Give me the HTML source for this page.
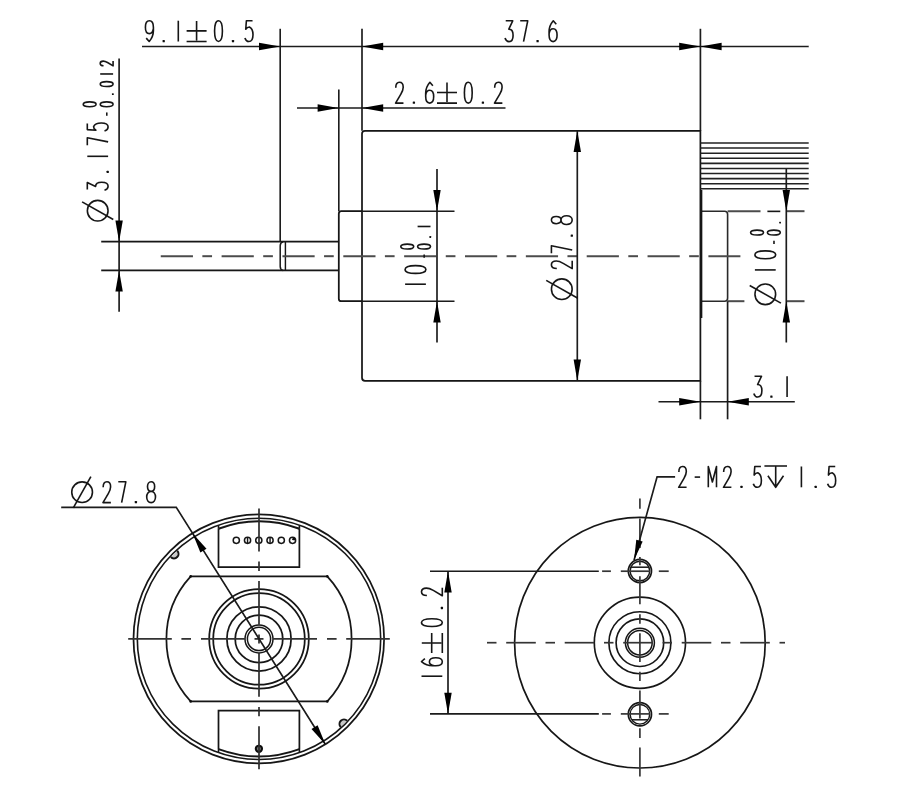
<!DOCTYPE html>
<html><head><meta charset="utf-8"><title>Motor drawing</title>
<style>html,body{margin:0;padding:0;background:#fff;font-family:"Liberation Sans",sans-serif;}svg{display:block}</style>
</head><body>
<svg width="908" height="799" viewBox="0 0 908 799">
<defs><filter id="soft" x="-2%" y="-2%" width="104%" height="104%"><feGaussianBlur stdDeviation="0.42"/></filter></defs>
<rect width="908" height="799" fill="#fff"/>
<g filter="url(#soft)">
<path d="M365.0,130.8 L700.4,130.8 L700.4,380.8 L365.0,380.8 Q362.0,380.8 362.0,377.8 L362.0,133.8 Q362.0,130.8 365.0,130.8 Z" stroke="#161616" stroke-width="1.75" fill="none" />
<path d="M362.0,211.2 L341.3,211.2 Q338.8,211.2 338.8,213.7 L338.8,298.7 Q338.8,301.2 341.3,301.2 L362.0,301.2" stroke="#161616" stroke-width="1.75" fill="none" />
<line x1="362.00" y1="211.20" x2="454.50" y2="211.20" stroke="#1a1a1a" stroke-width="1.65" />
<line x1="362.00" y1="301.20" x2="454.50" y2="301.20" stroke="#1a1a1a" stroke-width="1.65" />
<line x1="101.20" y1="241.70" x2="338.80" y2="241.70" stroke="#161616" stroke-width="1.75" />
<line x1="101.20" y1="270.40" x2="338.80" y2="270.40" stroke="#161616" stroke-width="1.75" />
<path d="M283.2,241.7 Q280.2,242.2 280.2,245.7 L280.2,266.4 Q280.2,269.9 283.2,270.4" stroke="#161616" stroke-width="1.5" fill="none" />
<line x1="285.40" y1="241.70" x2="285.40" y2="270.40" stroke="#161616" stroke-width="1.45" />
<path d="M700.4,211.2 L724.6,211.2 Q727.6,211.2 727.6,214.2 L727.6,298.2 Q727.6,301.2 724.6,301.2 L700.4,301.2" stroke="#2a2a2a" stroke-width="1.6" fill="none" />
<line x1="701.60" y1="190.00" x2="701.60" y2="318.00" stroke="#161616" stroke-width="1.5" />
<line x1="700.40" y1="143.00" x2="808.70" y2="143.00" stroke="#222" stroke-width="1.55" />
<line x1="700.40" y1="148.09" x2="808.70" y2="148.09" stroke="#222" stroke-width="1.55" />
<line x1="700.40" y1="153.18" x2="808.70" y2="153.18" stroke="#222" stroke-width="1.55" />
<line x1="700.40" y1="158.27" x2="808.70" y2="158.27" stroke="#222" stroke-width="1.55" />
<line x1="700.40" y1="163.36" x2="808.70" y2="163.36" stroke="#222" stroke-width="1.55" />
<line x1="700.40" y1="168.45" x2="808.70" y2="168.45" stroke="#222" stroke-width="1.55" />
<line x1="700.40" y1="173.54" x2="808.70" y2="173.54" stroke="#222" stroke-width="1.55" />
<line x1="700.40" y1="178.63" x2="808.70" y2="178.63" stroke="#222" stroke-width="1.55" />
<line x1="700.40" y1="183.72" x2="808.70" y2="183.72" stroke="#222" stroke-width="1.55" />
<line x1="700.40" y1="188.81" x2="808.70" y2="188.81" stroke="#222" stroke-width="1.55" />
<line x1="160.75" y1="256.20" x2="192.95" y2="256.20" stroke="#4c4c4c" stroke-width="2.0" />
<line x1="202.35" y1="256.20" x2="212.05" y2="256.20" stroke="#4c4c4c" stroke-width="2.0" />
<line x1="221.60" y1="256.20" x2="253.80" y2="256.20" stroke="#4c4c4c" stroke-width="2.0" />
<line x1="263.20" y1="256.20" x2="272.90" y2="256.20" stroke="#4c4c4c" stroke-width="2.0" />
<line x1="282.45" y1="256.20" x2="314.65" y2="256.20" stroke="#4c4c4c" stroke-width="2.0" />
<line x1="324.05" y1="256.20" x2="333.75" y2="256.20" stroke="#4c4c4c" stroke-width="2.0" />
<line x1="343.30" y1="256.20" x2="375.50" y2="256.20" stroke="#4c4c4c" stroke-width="2.0" />
<line x1="384.90" y1="256.20" x2="394.60" y2="256.20" stroke="#4c4c4c" stroke-width="2.0" />
<line x1="404.15" y1="256.20" x2="436.35" y2="256.20" stroke="#4c4c4c" stroke-width="2.0" />
<line x1="445.75" y1="256.20" x2="455.45" y2="256.20" stroke="#4c4c4c" stroke-width="2.0" />
<line x1="465.00" y1="256.20" x2="497.20" y2="256.20" stroke="#4c4c4c" stroke-width="2.0" />
<line x1="506.60" y1="256.20" x2="516.30" y2="256.20" stroke="#4c4c4c" stroke-width="2.0" />
<line x1="525.85" y1="256.20" x2="558.05" y2="256.20" stroke="#4c4c4c" stroke-width="2.0" />
<line x1="567.45" y1="256.20" x2="577.15" y2="256.20" stroke="#4c4c4c" stroke-width="2.0" />
<line x1="586.70" y1="256.20" x2="618.90" y2="256.20" stroke="#4c4c4c" stroke-width="2.0" />
<line x1="628.30" y1="256.20" x2="638.00" y2="256.20" stroke="#4c4c4c" stroke-width="2.0" />
<line x1="647.55" y1="256.20" x2="679.75" y2="256.20" stroke="#4c4c4c" stroke-width="2.0" />
<line x1="689.15" y1="256.20" x2="698.85" y2="256.20" stroke="#4c4c4c" stroke-width="2.0" />
<line x1="708.40" y1="256.20" x2="740.40" y2="256.20" stroke="#4c4c4c" stroke-width="2.0" />
<line x1="727.60" y1="211.20" x2="760.50" y2="211.20" stroke="#4c4c4c" stroke-width="2.0" />
<line x1="786.30" y1="211.20" x2="804.50" y2="211.20" stroke="#4c4c4c" stroke-width="2.0" />
<line x1="727.60" y1="301.20" x2="744.40" y2="301.20" stroke="#4c4c4c" stroke-width="2.0" />
<line x1="786.30" y1="301.20" x2="804.50" y2="301.20" stroke="#4c4c4c" stroke-width="2.0" />
<line x1="142.00" y1="46.50" x2="808.70" y2="46.50" stroke="#1a1a1a" stroke-width="1.65" />
<line x1="280.20" y1="28.80" x2="280.20" y2="241.70" stroke="#1a1a1a" stroke-width="1.65" />
<line x1="362.00" y1="28.80" x2="362.00" y2="130.80" stroke="#1a1a1a" stroke-width="1.65" />
<line x1="700.40" y1="28.80" x2="700.40" y2="130.80" stroke="#1a1a1a" stroke-width="1.65" />
<polygon points="280.20,46.50 259.00,42.80 259.00,50.20" fill="#000"/>
<polygon points="362.00,46.50 383.20,50.20 383.20,42.80" fill="#000"/>
<polygon points="700.40,46.50 679.20,42.80 679.20,50.20" fill="#000"/>
<polygon points="700.40,46.50 721.60,50.20 721.60,42.80" fill="#000"/>
<line x1="297.00" y1="108.00" x2="505.50" y2="108.00" stroke="#1a1a1a" stroke-width="1.65" />
<line x1="338.80" y1="89.50" x2="338.80" y2="211.20" stroke="#1a1a1a" stroke-width="1.65" />
<polygon points="338.80,108.00 317.60,104.30 317.60,111.70" fill="#000"/>
<polygon points="362.00,108.00 383.20,111.70 383.20,104.30" fill="#000"/>
<line x1="119.10" y1="58.50" x2="119.10" y2="311.80" stroke="#1a1a1a" stroke-width="1.65" />
<polygon points="119.10,241.70 122.80,220.50 115.40,220.50" fill="#000"/>
<polygon points="119.10,270.40 115.40,291.60 122.80,291.60" fill="#000"/>
<line x1="437.00" y1="169.00" x2="437.00" y2="342.50" stroke="#1a1a1a" stroke-width="1.65" />
<polygon points="437.00,211.20 440.70,190.00 433.30,190.00" fill="#000"/>
<polygon points="437.00,301.20 433.30,322.40 440.70,322.40" fill="#000"/>
<line x1="577.30" y1="130.80" x2="577.30" y2="380.80" stroke="#1a1a1a" stroke-width="1.65" />
<polygon points="577.30,130.80 573.60,152.00 581.00,152.00" fill="#000"/>
<polygon points="577.30,380.80 581.00,359.60 573.60,359.60" fill="#000"/>
<line x1="786.30" y1="169.00" x2="786.30" y2="342.50" stroke="#1a1a1a" stroke-width="1.65" />
<polygon points="786.30,211.20 790.00,190.00 782.60,190.00" fill="#000"/>
<polygon points="786.30,301.20 782.60,322.40 790.00,322.40" fill="#000"/>
<line x1="658.50" y1="401.70" x2="794.80" y2="401.70" stroke="#1a1a1a" stroke-width="1.65" />
<line x1="700.40" y1="380.80" x2="700.40" y2="419.30" stroke="#1a1a1a" stroke-width="1.65" />
<line x1="727.60" y1="301.20" x2="727.60" y2="419.30" stroke="#1a1a1a" stroke-width="1.65" />
<polygon points="700.40,401.70 679.20,398.00 679.20,405.40" fill="#000"/>
<polygon points="727.60,401.70 748.80,405.40 748.80,398.00" fill="#000"/>
<g transform="translate(0.00,41.50) rotate(0)" fill="none" stroke="#161616" stroke-width="1.6" stroke-linecap="butt" stroke-linejoin="round">
<path transform="translate(145.30,-20.80) scale(0.9300,1.0)" d="M1.0,17.4 L4.2,20.8 C6.4,18.4 8.7,15.4 8.7,10 L8.7,6.5 C8.7,2.4 7,0 4.4,0 C1.8,0 0.1,2.4 0.1,6.5 C0.1,10.5 1.8,12.9 4.4,12.9 C6.6,12.9 8.2,11 8.7,8" vector-effect="non-scaling-stroke"/>
<rect x="162.55" y="-1.55" width="2.30" height="2.30" rx="0.57" fill="#111" stroke="none"/>
<path transform="translate(174.20,-20.80) scale(0.9300,1.0)" d="M4.4,0 L4.4,20.8" vector-effect="non-scaling-stroke"/>
<path transform="translate(186.60,-20.80) scale(1.0000,1.0)" d="M0,10.2 L20,10.2 M10,0.3 L10,19.8 M0,20.8 L20,20.8" vector-effect="non-scaling-stroke"/>
<path transform="translate(214.40,-20.80) scale(0.9300,1.0)" d="M4.4,0 C1.6,0 0.2,3.6 0.2,10.4 C0.2,17.2 1.6,20.8 4.4,20.8 C7.2,20.8 8.6,17.2 8.6,10.4 C8.6,3.6 7.2,0 4.4,0 Z" vector-effect="non-scaling-stroke"/>
<rect x="231.85" y="-1.55" width="2.30" height="2.30" rx="0.57" fill="#111" stroke="none"/>
<path transform="translate(244.90,-20.80) scale(0.9300,1.0)" d="M8.2,0 L1.6,0 L0.9,8.6 C2,7.0 3.3,6.3 4.8,6.3 C7.3,7.3 8.7,10 8.7,14 C8.7,18.2 7,20.8 4.3,20.8 C2.2,20.8 0.8,19.6 0,17.2" vector-effect="non-scaling-stroke"/>
</g>
<g transform="translate(0.00,41.60) rotate(0)" fill="none" stroke="#161616" stroke-width="1.6" stroke-linecap="butt" stroke-linejoin="round">
<path transform="translate(505.00,-20.80) scale(0.9300,1.0)" d="M0.8,0 L8.3,0 L4.1,8.3 C7,8.3 8.7,10.8 8.7,14.4 C8.7,18.4 7,20.8 4.3,20.8 C2.2,20.8 0.8,19.6 0,17.2" vector-effect="non-scaling-stroke"/>
<path transform="translate(520.00,-20.80) scale(0.9300,1.0)" d="M0.2,0 L8.3,0 L3.8,20.8" vector-effect="non-scaling-stroke"/>
<rect x="536.45" y="-1.55" width="2.30" height="2.30" rx="0.57" fill="#111" stroke="none"/>
<path transform="translate(549.00,-20.80) scale(0.9300,1.0)" d="M7.8,3.4 L4.6,0 C2.4,2.4 0.1,5.4 0.1,10.8 L0.1,14.3 C0.1,18.4 1.8,20.8 4.4,20.8 C7,20.8 8.7,18.4 8.7,14.3 C8.7,10.3 7,7.9 4.4,7.9 C2.2,7.9 0.6,9.8 0.1,12.8" vector-effect="non-scaling-stroke"/>
</g>
<g transform="translate(0.00,103.10) rotate(0)" fill="none" stroke="#161616" stroke-width="1.6" stroke-linecap="butt" stroke-linejoin="round">
<path transform="translate(395.30,-20.80) scale(0.9300,1.0)" d="M0.5,5.4 C0.5,2 2,0 4.5,0 C7,0 8.5,2 8.5,4.9 C8.5,7.4 7.5,9.4 6,11.8 L0.3,20.8 L8.8,20.8" vector-effect="non-scaling-stroke"/>
<rect x="412.75" y="-1.55" width="2.30" height="2.30" rx="0.57" fill="#111" stroke="none"/>
<path transform="translate(425.60,-20.80) scale(0.9300,1.0)" d="M7.8,3.4 L4.6,0 C2.4,2.4 0.1,5.4 0.1,10.8 L0.1,14.3 C0.1,18.4 1.8,20.8 4.4,20.8 C7,20.8 8.7,18.4 8.7,14.3 C8.7,10.3 7,7.9 4.4,7.9 C2.2,7.9 0.6,9.8 0.1,12.8" vector-effect="non-scaling-stroke"/>
<path transform="translate(437.00,-20.80) scale(1.0000,1.0)" d="M0,10.2 L20,10.2 M10,0.3 L10,19.8 M0,20.8 L20,20.8" vector-effect="non-scaling-stroke"/>
<path transform="translate(464.20,-20.80) scale(0.9300,1.0)" d="M4.4,0 C1.6,0 0.2,3.6 0.2,10.4 C0.2,17.2 1.6,20.8 4.4,20.8 C7.2,20.8 8.6,17.2 8.6,10.4 C8.6,3.6 7.2,0 4.4,0 Z" vector-effect="non-scaling-stroke"/>
<rect x="481.75" y="-1.55" width="2.30" height="2.30" rx="0.57" fill="#111" stroke="none"/>
<path transform="translate(494.20,-20.80) scale(0.9300,1.0)" d="M0.5,5.4 C0.5,2 2,0 4.5,0 C7,0 8.5,2 8.5,4.9 C8.5,7.4 7.5,9.4 6,11.8 L0.3,20.8 L8.8,20.8" vector-effect="non-scaling-stroke"/>
</g>
<g transform="translate(0.00,397.00) rotate(0)" fill="none" stroke="#161616" stroke-width="1.6" stroke-linecap="butt" stroke-linejoin="round">
<path transform="translate(753.80,-20.80) scale(0.9300,1.0)" d="M0.8,0 L8.3,0 L4.1,8.3 C7,8.3 8.7,10.8 8.7,14.4 C8.7,18.4 7,20.8 4.3,20.8 C2.2,20.8 0.8,19.6 0,17.2" vector-effect="non-scaling-stroke"/>
<rect x="770.25" y="-1.55" width="2.30" height="2.30" rx="0.57" fill="#111" stroke="none"/>
<path transform="translate(783.00,-20.80) scale(0.9300,1.0)" d="M4.4,0 L4.4,20.8" vector-effect="non-scaling-stroke"/>
</g>
<g transform="translate(108.10,230.00) rotate(-90)" fill="none" stroke="#161616" stroke-width="1.6" stroke-linecap="butt" stroke-linejoin="round">
<circle cx="19.30" cy="-10.40" r="10.35"/><path d="M10.50,5.20 L28.10,-26.00"/>
<path transform="translate(39.70,-20.80) scale(0.9300,1.0)" d="M0.8,0 L8.3,0 L4.1,8.3 C7,8.3 8.7,10.8 8.7,14.4 C8.7,18.4 7,20.8 4.3,20.8 C2.2,20.8 0.8,19.6 0,17.2" vector-effect="non-scaling-stroke"/>
<rect x="56.95" y="-1.55" width="2.30" height="2.30" rx="0.57" fill="#111" stroke="none"/>
<path transform="translate(69.60,-20.80) scale(0.9300,1.0)" d="M4.4,0 L4.4,20.8" vector-effect="non-scaling-stroke"/>
<path transform="translate(84.60,-20.80) scale(0.9300,1.0)" d="M0.2,0 L8.3,0 L3.8,20.8" vector-effect="non-scaling-stroke"/>
<path transform="translate(98.90,-20.80) scale(0.9300,1.0)" d="M8.2,0 L1.6,0 L0.9,8.6 C2,7.0 3.3,6.3 4.8,6.3 C7.3,7.3 8.7,10 8.7,14 C8.7,18.2 7,20.8 4.3,20.8 C2.2,20.8 0.8,19.6 0,17.2" vector-effect="non-scaling-stroke"/>
<path transform="translate(113.10,-7.90) scale(0.6200,0.62)" d="M1.8,10.6 L7.2,10.6" vector-effect="non-scaling-stroke"/>
<path transform="translate(123.20,-7.90) scale(0.5766,0.62)" d="M4.4,0 C1.6,0 0.2,3.6 0.2,10.4 C0.2,17.2 1.6,20.8 4.4,20.8 C7.2,20.8 8.6,17.2 8.6,10.4 C8.6,3.6 7.2,0 4.4,0 Z" vector-effect="non-scaling-stroke"/>
<rect x="134.88" y="3.83" width="1.84" height="1.84" rx="0.46" fill="#111" stroke="none"/>
<path transform="translate(143.40,-7.90) scale(0.5766,0.62)" d="M4.4,0 C1.6,0 0.2,3.6 0.2,10.4 C0.2,17.2 1.6,20.8 4.4,20.8 C7.2,20.8 8.6,17.2 8.6,10.4 C8.6,3.6 7.2,0 4.4,0 Z" vector-effect="non-scaling-stroke"/>
<path transform="translate(153.50,-7.90) scale(0.5766,0.62)" d="M4.4,0 L4.4,20.8" vector-effect="non-scaling-stroke"/>
<path transform="translate(164.00,-7.90) scale(0.5766,0.62)" d="M0.5,5.4 C0.5,2 2,0 4.5,0 C7,0 8.5,2 8.5,4.9 C8.5,7.4 7.5,9.4 6,11.8 L0.3,20.8 L8.8,20.8" vector-effect="non-scaling-stroke"/>
<path transform="translate(123.20,-24.90) scale(0.5766,0.62)" d="M4.4,0 C1.6,0 0.2,3.6 0.2,10.4 C0.2,17.2 1.6,20.8 4.4,20.8 C7.2,20.8 8.6,17.2 8.6,10.4 C8.6,3.6 7.2,0 4.4,0 Z" vector-effect="non-scaling-stroke"/>
</g>
<g transform="translate(425.90,300.00) rotate(-90)" fill="none" stroke="#161616" stroke-width="1.6" stroke-linecap="butt" stroke-linejoin="round">
<path transform="translate(11.70,-20.80) scale(0.9300,1.0)" d="M4.4,0 L4.4,20.8" vector-effect="non-scaling-stroke"/>
<path transform="translate(26.40,-20.80) scale(0.9300,1.0)" d="M4.4,0 C1.6,0 0.2,3.6 0.2,10.4 C0.2,17.2 1.6,20.8 4.4,20.8 C7.2,20.8 8.6,17.2 8.6,10.4 C8.6,3.6 7.2,0 4.4,0 Z" vector-effect="non-scaling-stroke"/>
<path transform="translate(41.10,-8.30) scale(0.6200,0.62)" d="M1.8,10.6 L7.2,10.6" vector-effect="non-scaling-stroke"/>
<path transform="translate(50.90,-8.30) scale(0.5766,0.62)" d="M4.4,0 C1.6,0 0.2,3.6 0.2,10.4 C0.2,17.2 1.6,20.8 4.4,20.8 C7.2,20.8 8.6,17.2 8.6,10.4 C8.6,3.6 7.2,0 4.4,0 Z" vector-effect="non-scaling-stroke"/>
<rect x="62.08" y="3.43" width="1.84" height="1.84" rx="0.46" fill="#111" stroke="none"/>
<path transform="translate(71.00,-8.30) scale(0.5766,0.62)" d="M4.4,0 L4.4,20.8" vector-effect="non-scaling-stroke"/>
<path transform="translate(50.90,-25.10) scale(0.5766,0.62)" d="M4.4,0 C1.6,0 0.2,3.6 0.2,10.4 C0.2,17.2 1.6,20.8 4.4,20.8 C7.2,20.8 8.6,17.2 8.6,10.4 C8.6,3.6 7.2,0 4.4,0 Z" vector-effect="non-scaling-stroke"/>
</g>
<g transform="translate(572.20,310.00) rotate(-90)" fill="none" stroke="#161616" stroke-width="1.6" stroke-linecap="butt" stroke-linejoin="round">
<circle cx="20.80" cy="-10.40" r="10.35"/><path d="M12.00,5.20 L29.60,-26.00"/>
<path transform="translate(41.10,-20.80) scale(0.9300,1.0)" d="M0.5,5.4 C0.5,2 2,0 4.5,0 C7,0 8.5,2 8.5,4.9 C8.5,7.4 7.5,9.4 6,11.8 L0.3,20.8 L8.8,20.8" vector-effect="non-scaling-stroke"/>
<path transform="translate(56.50,-20.80) scale(0.9300,1.0)" d="M0.2,0 L8.3,0 L3.8,20.8" vector-effect="non-scaling-stroke"/>
<rect x="73.25" y="-1.55" width="2.30" height="2.30" rx="0.57" fill="#111" stroke="none"/>
<path transform="translate(85.40,-20.80) scale(1.0200,1.0)" d="M4.4,9.6 C2.2,9.6 0.9,7.6 0.9,4.8 C0.9,2 2.2,0 4.4,0 C6.6,0 7.9,2 7.9,4.8 C7.9,7.6 6.6,9.6 4.4,9.6 C1.8,9.6 0.1,12 0.1,15.2 C0.1,18.4 1.8,20.8 4.4,20.8 C7,20.8 8.7,18.4 8.7,15.2 C8.7,12 7,9.6 4.4,9.6 Z" vector-effect="non-scaling-stroke"/>
</g>
<g transform="translate(775.70,310.00) rotate(-90)" fill="none" stroke="#161616" stroke-width="1.6" stroke-linecap="butt" stroke-linejoin="round">
<circle cx="15.70" cy="-10.40" r="10.35"/><path d="M6.90,5.20 L24.50,-26.00"/>
<path transform="translate(36.00,-20.80) scale(0.9300,1.0)" d="M4.4,0 L4.4,20.8" vector-effect="non-scaling-stroke"/>
<path transform="translate(51.10,-20.80) scale(0.9300,1.0)" d="M4.4,0 C1.6,0 0.2,3.6 0.2,10.4 C0.2,17.2 1.6,20.8 4.4,20.8 C7.2,20.8 8.6,17.2 8.6,10.4 C8.6,3.6 7.2,0 4.4,0 Z" vector-effect="non-scaling-stroke"/>
<path transform="translate(64.80,-8.30) scale(0.6200,0.62)" d="M1.8,10.6 L7.2,10.6" vector-effect="non-scaling-stroke"/>
<path transform="translate(74.90,-8.30) scale(0.5766,0.62)" d="M4.4,0 C1.6,0 0.2,3.6 0.2,10.4 C0.2,17.2 1.6,20.8 4.4,20.8 C7.2,20.8 8.6,17.2 8.6,10.4 C8.6,3.6 7.2,0 4.4,0 Z" vector-effect="non-scaling-stroke"/>
<rect x="86.48" y="3.43" width="1.84" height="1.84" rx="0.46" fill="#111" stroke="none"/>
<path transform="translate(96.10,-8.30) scale(0.5766,0.62)" d="M4.4,0 L4.4,20.8" vector-effect="non-scaling-stroke"/>
<path transform="translate(74.90,-25.10) scale(0.5766,0.62)" d="M4.4,0 C1.6,0 0.2,3.6 0.2,10.4 C0.2,17.2 1.6,20.8 4.4,20.8 C7.2,20.8 8.6,17.2 8.6,10.4 C8.6,3.6 7.2,0 4.4,0 Z" vector-effect="non-scaling-stroke"/>
</g>
<ellipse cx="258.8" cy="638.85" rx="125.3" ry="124.45" stroke="#161616" stroke-width="1.75" fill="none"/>
<ellipse cx="259.0" cy="638.85" rx="121.7" ry="120.65" stroke="#161616" stroke-width="1.6" fill="none"/>
<path d="M190.7,576.4 L327.3,576.4 A92.5,92.5 0 0 1 327.3,701.4 L190.7,701.4 A92.5,92.5 0 0 1 190.7,576.4 Z" stroke="#161616" stroke-width="1.75" fill="none" />
<circle cx="190.7" cy="576.4" r="1.3" fill="#111"/>
<circle cx="327.3" cy="576.4" r="1.3" fill="#111"/>
<circle cx="190.7" cy="701.4" r="1.3" fill="#111"/>
<circle cx="327.3" cy="701.4" r="1.3" fill="#111"/>
<circle cx="259.00" cy="638.90" r="49.80" stroke="#161616" stroke-width="1.75" fill="none"/>
<circle cx="259.00" cy="638.90" r="45.80" stroke="#161616" stroke-width="1.75" fill="none"/>
<circle cx="259.00" cy="638.90" r="32.10" stroke="#161616" stroke-width="1.75" fill="none"/>
<circle cx="259.00" cy="638.90" r="23.80" stroke="#161616" stroke-width="1.75" fill="none"/>
<circle cx="259.00" cy="638.90" r="14.00" stroke="#161616" stroke-width="1.5" fill="none"/>
<circle cx="259.00" cy="638.90" r="11.60" stroke="#161616" stroke-width="1.5" fill="none"/>
<path d="M218.5,528.706942142438 L218.5,567.1 L299.4,567.1 L299.4,528.706942142438" stroke="#161616" stroke-width="1.75" fill="none" />
<path d="M218.5,528.706942142438 A117.4,117.4 0 0 1 299.4,528.706942142438" stroke="#161616" stroke-width="2.0" fill="none" />
<path d="M218.5,528.706942142438 L218.5,525.6222881587026 M299.4,525.6222881587026 L299.4,528.706942142438" stroke="#161616" stroke-width="1.6" fill="none" />
<path d="M218.5,749.0930578575619 L218.5,710.5 L299.4,710.5 L299.4,749.0930578575619" stroke="#161616" stroke-width="1.75" fill="none" />
<path d="M218.5,749.0930578575619 A117.4,117.4 0 0 0 299.4,749.0930578575619" stroke="#161616" stroke-width="2.0" fill="none" />
<path d="M218.5,749.0930578575619 L218.5,752.1777118412973 M299.4,752.1777118412973 L299.4,749.0930578575619" stroke="#161616" stroke-width="1.6" fill="none" />
<circle cx="236.30" cy="540.30" r="3.10" stroke="#161616" stroke-width="1.5" fill="none"/>
<circle cx="247.55" cy="540.30" r="3.10" stroke="#161616" stroke-width="1.5" fill="none"/>
<line x1="247.55" y1="537.50" x2="247.55" y2="543.10" stroke="#161616" stroke-width="1.4" />
<circle cx="258.80" cy="540.30" r="3.10" stroke="#161616" stroke-width="1.5" fill="none"/>
<circle cx="270.05" cy="540.30" r="3.10" stroke="#161616" stroke-width="1.5" fill="none"/>
<line x1="270.05" y1="537.50" x2="270.05" y2="543.10" stroke="#161616" stroke-width="1.4" />
<circle cx="281.30" cy="540.30" r="3.10" stroke="#161616" stroke-width="1.5" fill="none"/>
<circle cx="292.55" cy="540.30" r="3.10" stroke="#161616" stroke-width="1.5" fill="none"/>
<path d="M292.0,540.0 L292.8,537.3 A3,3 0 0 1 295.5,540.6 Z" fill="#111"/>
<circle cx="258.90" cy="748.80" r="3.10" stroke="#111" stroke-width="2.1" fill="#777"/>
<g transform="translate(174.0,553.9) rotate(-45)"><path d="M-4.5,0 A4.5,4.5 0 0 0 4.5,0" stroke="#161616" stroke-width="2.0" fill="#c8c8c8"/></g>
<g transform="translate(344.0,723.9) rotate(135)"><path d="M-4.5,0 A4.5,4.5 0 0 0 4.5,0" stroke="#161616" stroke-width="2.0" fill="#c8c8c8"/></g>
<line x1="128.20" y1="638.90" x2="171.80" y2="638.90" stroke="#303030" stroke-width="1.75" />
<line x1="181.40" y1="638.90" x2="191.00" y2="638.90" stroke="#303030" stroke-width="1.75" />
<line x1="201.00" y1="638.90" x2="244.90" y2="638.90" stroke="#303030" stroke-width="1.75" />
<line x1="254.50" y1="638.90" x2="263.50" y2="638.90" stroke="#303030" stroke-width="1.75" />
<line x1="273.10" y1="638.90" x2="317.00" y2="638.90" stroke="#303030" stroke-width="1.75" />
<line x1="327.00" y1="638.90" x2="336.60" y2="638.90" stroke="#303030" stroke-width="1.75" />
<line x1="346.20" y1="638.90" x2="389.80" y2="638.90" stroke="#303030" stroke-width="1.75" />
<line x1="259.00" y1="508.50" x2="259.00" y2="551.50" stroke="#303030" stroke-width="1.75" />
<line x1="259.00" y1="561.60" x2="259.00" y2="570.90" stroke="#303030" stroke-width="1.75" />
<line x1="259.00" y1="581.00" x2="259.00" y2="624.80" stroke="#303030" stroke-width="1.75" />
<line x1="259.00" y1="634.40" x2="259.00" y2="643.40" stroke="#303030" stroke-width="1.75" />
<line x1="259.00" y1="653.00" x2="259.00" y2="696.80" stroke="#303030" stroke-width="1.75" />
<line x1="259.00" y1="706.90" x2="259.00" y2="716.20" stroke="#303030" stroke-width="1.75" />
<line x1="259.00" y1="726.30" x2="259.00" y2="769.30" stroke="#303030" stroke-width="1.75" />
<path d="M61.2,507.4 L176.25,507.4 L325.47,744.53" stroke="#1a1a1a" stroke-width="1.65" fill="none" />
<polygon points="192.53,533.27 200.40,552.54 206.50,548.70" fill="#000"/>
<polygon points="325.47,744.53 317.60,725.26 311.50,729.10" fill="#000"/>
<g transform="translate(0.00,502.60) rotate(0)" fill="none" stroke="#161616" stroke-width="1.6" stroke-linecap="butt" stroke-linejoin="round">
<circle cx="82.10" cy="-10.40" r="10.35"/><path d="M73.30,5.20 L90.90,-26.00"/>
<path transform="translate(102.70,-20.80) scale(0.9300,1.0)" d="M0.5,5.4 C0.5,2 2,0 4.5,0 C7,0 8.5,2 8.5,4.9 C8.5,7.4 7.5,9.4 6,11.8 L0.3,20.8 L8.8,20.8" vector-effect="non-scaling-stroke"/>
<path transform="translate(118.10,-20.80) scale(0.9300,1.0)" d="M0.2,0 L8.3,0 L3.8,20.8" vector-effect="non-scaling-stroke"/>
<rect x="134.75" y="-1.55" width="2.30" height="2.30" rx="0.57" fill="#111" stroke="none"/>
<path transform="translate(146.60,-20.80) scale(1.0200,1.0)" d="M4.4,9.6 C2.2,9.6 0.9,7.6 0.9,4.8 C0.9,2 2.2,0 4.4,0 C6.6,0 7.9,2 7.9,4.8 C7.9,7.6 6.6,9.6 4.4,9.6 C1.8,9.6 0.1,12 0.1,15.2 C0.1,18.4 1.8,20.8 4.4,20.8 C7,20.8 8.7,18.4 8.7,15.2 C8.7,12 7,9.6 4.4,9.6 Z" vector-effect="non-scaling-stroke"/>
</g>
<circle cx="639.90" cy="642.70" r="125.30" stroke="#161616" stroke-width="1.7" fill="none"/>
<circle cx="639.90" cy="642.70" r="45.60" stroke="#161616" stroke-width="1.65" fill="none"/>
<circle cx="639.90" cy="642.70" r="31.00" stroke="#161616" stroke-width="1.65" fill="none"/>
<circle cx="639.90" cy="642.70" r="23.80" stroke="#161616" stroke-width="1.65" fill="none"/>
<circle cx="639.90" cy="642.70" r="14.50" stroke="#161616" stroke-width="1.5" fill="none"/>
<circle cx="639.90" cy="642.70" r="12.30" stroke="#161616" stroke-width="1.5" fill="none"/>
<circle cx="639.90" cy="571.00" r="11.60" stroke="#161616" stroke-width="1.7" fill="none"/>
<circle cx="639.90" cy="571.00" r="9.80" stroke="#161616" stroke-width="1.4" fill="none"/>
<line x1="630.87" y1="567.20" x2="648.93" y2="567.20" stroke="#161616" stroke-width="1.5" />
<circle cx="639.90" cy="714.30" r="11.60" stroke="#161616" stroke-width="1.7" fill="none"/>
<circle cx="639.90" cy="714.30" r="9.80" stroke="#161616" stroke-width="1.4" fill="none"/>
<line x1="631.79" y1="719.80" x2="648.01" y2="719.80" stroke="#161616" stroke-width="1.5" />
<line x1="487.00" y1="642.70" x2="496.50" y2="642.70" stroke="#363636" stroke-width="1.7" />
<line x1="506.20" y1="642.70" x2="535.80" y2="642.70" stroke="#363636" stroke-width="1.7" />
<line x1="545.50" y1="642.70" x2="555.00" y2="642.70" stroke="#363636" stroke-width="1.7" />
<line x1="564.70" y1="642.70" x2="594.30" y2="642.70" stroke="#363636" stroke-width="1.7" />
<line x1="604.00" y1="642.70" x2="613.50" y2="642.70" stroke="#363636" stroke-width="1.7" />
<line x1="623.20" y1="642.70" x2="652.80" y2="642.70" stroke="#363636" stroke-width="1.7" />
<line x1="662.50" y1="642.70" x2="672.00" y2="642.70" stroke="#363636" stroke-width="1.7" />
<line x1="681.70" y1="642.70" x2="711.30" y2="642.70" stroke="#363636" stroke-width="1.7" />
<line x1="721.00" y1="642.70" x2="730.50" y2="642.70" stroke="#363636" stroke-width="1.7" />
<line x1="740.20" y1="642.70" x2="769.80" y2="642.70" stroke="#363636" stroke-width="1.7" />
<line x1="779.50" y1="642.70" x2="785.00" y2="642.70" stroke="#363636" stroke-width="1.7" />
<line x1="639.90" y1="498.60" x2="639.90" y2="508.80" stroke="#363636" stroke-width="1.7" />
<line x1="639.90" y1="518.60" x2="639.90" y2="548.00" stroke="#363636" stroke-width="1.7" />
<line x1="639.90" y1="557.00" x2="639.90" y2="565.20" stroke="#363636" stroke-width="1.7" />
<line x1="639.90" y1="576.30" x2="639.90" y2="604.30" stroke="#363636" stroke-width="1.7" />
<line x1="639.90" y1="614.20" x2="639.90" y2="623.80" stroke="#363636" stroke-width="1.7" />
<line x1="639.90" y1="633.30" x2="639.90" y2="662.00" stroke="#363636" stroke-width="1.7" />
<line x1="639.90" y1="671.80" x2="639.90" y2="681.00" stroke="#363636" stroke-width="1.7" />
<line x1="639.90" y1="690.50" x2="639.90" y2="718.60" stroke="#363636" stroke-width="1.7" />
<line x1="639.90" y1="728.20" x2="639.90" y2="737.90" stroke="#363636" stroke-width="1.7" />
<line x1="639.90" y1="747.50" x2="639.90" y2="776.40" stroke="#363636" stroke-width="1.7" />
<line x1="430.00" y1="571.20" x2="598.80" y2="571.20" stroke="#1a1a1a" stroke-width="1.65" />
<line x1="602.10" y1="571.20" x2="610.90" y2="571.20" stroke="#363636" stroke-width="1.7" />
<line x1="620.80" y1="571.20" x2="650.00" y2="571.20" stroke="#363636" stroke-width="1.7" />
<line x1="658.80" y1="571.20" x2="668.70" y2="571.20" stroke="#363636" stroke-width="1.7" />
<line x1="430.00" y1="713.90" x2="598.80" y2="713.90" stroke="#1a1a1a" stroke-width="1.65" />
<line x1="602.10" y1="713.90" x2="610.90" y2="713.90" stroke="#363636" stroke-width="1.7" />
<line x1="620.80" y1="713.90" x2="650.00" y2="713.90" stroke="#363636" stroke-width="1.7" />
<line x1="658.80" y1="713.90" x2="668.70" y2="713.90" stroke="#363636" stroke-width="1.7" />
<line x1="448.00" y1="571.20" x2="448.00" y2="713.90" stroke="#1a1a1a" stroke-width="1.65" />
<polygon points="448.00,571.20 444.30,592.40 451.70,592.40" fill="#000"/>
<polygon points="448.00,713.90 451.70,692.70 444.30,692.70" fill="#000"/>
<g transform="translate(442.30,690.00) rotate(-90)" fill="none" stroke="#161616" stroke-width="1.6" stroke-linecap="butt" stroke-linejoin="round">
<path transform="translate(9.70,-20.80) scale(0.9300,1.0)" d="M4.4,0 L4.4,20.8" vector-effect="non-scaling-stroke"/>
<path transform="translate(24.20,-20.80) scale(0.9300,1.0)" d="M7.8,3.4 L4.6,0 C2.4,2.4 0.1,5.4 0.1,10.8 L0.1,14.3 C0.1,18.4 1.8,20.8 4.4,20.8 C7,20.8 8.7,18.4 8.7,14.3 C8.7,10.3 7,7.9 4.4,7.9 C2.2,7.9 0.6,9.8 0.1,12.8" vector-effect="non-scaling-stroke"/>
<path transform="translate(37.00,-20.80) scale(1.0000,1.0)" d="M0,10.2 L20,10.2 M10,0.3 L10,19.8 M0,20.8 L20,20.8" vector-effect="non-scaling-stroke"/>
<path transform="translate(63.30,-20.80) scale(0.9300,1.0)" d="M4.4,0 C1.6,0 0.2,3.6 0.2,10.4 C0.2,17.2 1.6,20.8 4.4,20.8 C7.2,20.8 8.6,17.2 8.6,10.4 C8.6,3.6 7.2,0 4.4,0 Z" vector-effect="non-scaling-stroke"/>
<rect x="80.85" y="-1.55" width="2.30" height="2.30" rx="0.57" fill="#111" stroke="none"/>
<path transform="translate(94.00,-20.80) scale(0.9300,1.0)" d="M0.5,5.4 C0.5,2 2,0 4.5,0 C7,0 8.5,2 8.5,4.9 C8.5,7.4 7.5,9.4 6,11.8 L0.3,20.8 L8.8,20.8" vector-effect="non-scaling-stroke"/>
</g>
<path d="M675.1,476.8 L657.1,476.8 L634.0,560.3" stroke="#1a1a1a" stroke-width="1.65" fill="none" />
<polygon points="634.00,560.30 642.65,541.42 636.29,539.66" fill="#000"/>
<g transform="translate(0.00,487.30) rotate(0)" fill="none" stroke="#161616" stroke-width="1.6" stroke-linecap="butt" stroke-linejoin="round">
<path transform="translate(678.40,-20.80) scale(0.9300,1.0)" d="M0.5,5.4 C0.5,2 2,0 4.5,0 C7,0 8.5,2 8.5,4.9 C8.5,7.4 7.5,9.4 6,11.8 L0.3,20.8 L8.8,20.8" vector-effect="non-scaling-stroke"/>
<path transform="translate(692.90,-20.80) scale(1.0000,1.0)" d="M1.8,10.6 L7.2,10.6" vector-effect="non-scaling-stroke"/>
<path transform="translate(707.90,-20.80) scale(1.0000,1.0)" d="M0.4,20.8 L0.4,0 L4.5,15.5 L8.6,0 L8.6,20.8" vector-effect="non-scaling-stroke"/>
<path transform="translate(723.20,-20.80) scale(0.9300,1.0)" d="M0.5,5.4 C0.5,2 2,0 4.5,0 C7,0 8.5,2 8.5,4.9 C8.5,7.4 7.5,9.4 6,11.8 L0.3,20.8 L8.8,20.8" vector-effect="non-scaling-stroke"/>
<rect x="740.35" y="-1.55" width="2.30" height="2.30" rx="0.57" fill="#111" stroke="none"/>
<path transform="translate(753.30,-20.80) scale(0.9300,1.0)" d="M8.2,0 L1.6,0 L0.9,8.6 C2,7.0 3.3,6.3 4.8,6.3 C7.3,7.3 8.7,10 8.7,14 C8.7,18.2 7,20.8 4.3,20.8 C2.2,20.8 0.8,19.6 0,17.2" vector-effect="non-scaling-stroke"/>
<path transform="translate(765.30,-20.80) scale(1.0000,1.0)" d="M-0.9,-0.5 L21.7,-0.5 M10.4,-0.5 L10.4,20.8 M2.6,9.2 L10.4,20.8 L18.2,9.2" vector-effect="non-scaling-stroke"/>
<path transform="translate(797.30,-20.80) scale(0.9300,1.0)" d="M4.4,0 L4.4,20.8" vector-effect="non-scaling-stroke"/>
<rect x="814.55" y="-1.55" width="2.30" height="2.30" rx="0.57" fill="#111" stroke="none"/>
<path transform="translate(827.60,-20.80) scale(0.9300,1.0)" d="M8.2,0 L1.6,0 L0.9,8.6 C2,7.0 3.3,6.3 4.8,6.3 C7.3,7.3 8.7,10 8.7,14 C8.7,18.2 7,20.8 4.3,20.8 C2.2,20.8 0.8,19.6 0,17.2" vector-effect="non-scaling-stroke"/>
</g>
</g>
</svg>
</body></html>
